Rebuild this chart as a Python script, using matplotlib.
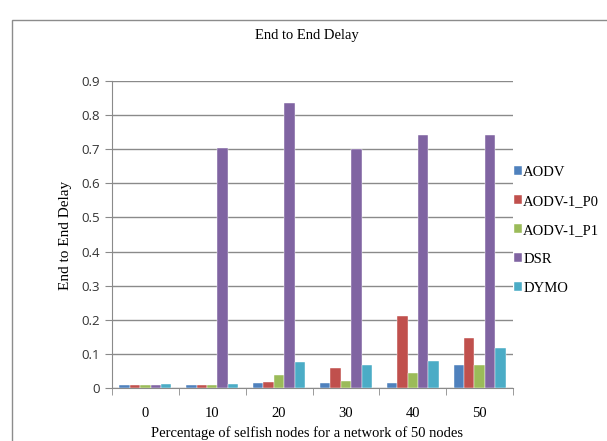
import matplotlib
matplotlib.use("Agg")
import matplotlib.pyplot as plt
import numpy as np
from matplotlib.patches import Rectangle

categories = ["0", "10", "20", "30", "40", "50"]
series_names = ["AODV", "AODV-1_P0", "AODV-1_P1", "DSR", "DYMO"]
aodv = [0.010, 0.010, 0.016, 0.016, 0.016, 0.068]
aodv_p0 = [0.010, 0.010, 0.018, 0.058, 0.210, 0.148]
aodv_p1 = [0.010, 0.010, 0.038, 0.020, 0.045, 0.068]
dsr = [0.010, 0.705, 0.835, 0.700, 0.742, 0.742]
dymo = [0.012, 0.012, 0.075, 0.068, 0.078, 0.118]
y_ticks = [0, 0.1, 0.2, 0.3, 0.4, 0.5, 0.6, 0.7, 0.8, 0.9]
y_tick_labels = ["0", "0.1", "0.2", "0.3", "0.4", "0.5", "0.6", "0.7", "0.8", "0.9"]

colors = ["#4F81BD", "#C0504D", "#9BBB59", "#8064A2", "#4BACC6"]
values = [aodv, aodv_p0, aodv_p1, dsr, dymo]

W, H = 607, 441
fig = plt.figure(figsize=(W / 100, H / 100), dpi=100)

# outer chart frame
fig.patches.append(Rectangle((12 / W, -0.1), 1.2, 1 - 20 / H + 0.1,
                             transform=fig.transFigure, fill=False,
                             edgecolor="#8c8c8c", linewidth=1.0))

ax = fig.add_axes([112 / W, 1 - 388 / H, (513 - 112) / W, (388 - 81) / H])

x = np.arange(len(categories))
n = len(values)
group = 0.78
bw = group / n
for i, (name, vals, c) in enumerate(zip(series_names, values, colors)):
    offs = (i - (n - 1) / 2) * bw
    ax.bar(x + offs, vals, width=bw, color=c, label=name, zorder=3,
           edgecolor="white", linewidth=0.3)

ax.set_xlim(-0.5, len(categories) - 0.5)
ax.set_ylim(0, 0.9)
ax.set_yticks(y_ticks)
ax.set_yticklabels(y_tick_labels, fontfamily="Open Sans", fontsize=9.5,
                   color="#333333")
ax.yaxis.grid(True, color="#8a8a8a", linewidth=1.0, zorder=0)
ax.set_axisbelow(True)

ax.set_xticks(x)
ax.set_xticklabels(categories, fontfamily="Liberation Serif", fontsize=10.5)
ax.tick_params(axis="x", length=0, pad=14)
ax.set_xticks(np.arange(-0.5, len(categories), 1.0), minor=True)
ax.tick_params(axis="x", which="minor", length=5, color="#8a8a8a")
ax.tick_params(axis="y", length=5, color="#8a8a8a", pad=4)

for s in ["top", "right"]:
    ax.spines[s].set_visible(False)
ax.spines["left"].set_color("#8a8a8a")
ax.spines["bottom"].set_color("#8a8a8a")

fig.text(307 / W, 1 - 36 / H, "End to End Delay", ha="center", va="center",
         fontfamily="Liberation Serif", fontsize=10.5)
fig.text(66 / W, 1 - 235 / H, "End to End Delay", ha="center", va="center",
         rotation=90, fontfamily="Liberation Serif", fontsize=11)
fig.text(307 / W, 1 - 433 / H,
         "Percentage of selfish nodes for a network of 50 nodes",
         ha="center", va="center", fontfamily="Liberation Serif", fontsize=10.5)

leg = fig.legend(loc="upper left", bbox_to_anchor=(508 / W, 1 - 160 / H),
                 frameon=False, prop={"family": "Liberation Serif", "size": 10.5},
                 handlelength=0.55, handleheight=0.55, handletextpad=0.1,
                 labelspacing=1.1, borderaxespad=0)

fig.savefig("out.png", dpi=100)
